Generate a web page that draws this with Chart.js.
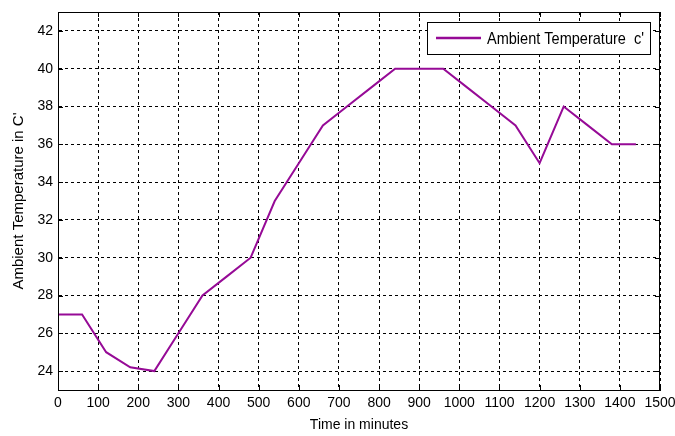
<!DOCTYPE html>
<html>
<head>
<meta charset="utf-8">
<script src="https://cdn.jsdelivr.net/npm/chart.js@4.4.1/dist/chart.umd.min.js"></script>
<style>
  html, body { margin: 0; padding: 0; background: #fff; }
  #wrap { width: 675px; height: 436px; }
</style>
</head>
<body>
<div id="wrap"><canvas id="chart" width="675" height="436"></canvas></div>
<script>
// time in minutes / ambient temperature
const minutes = [0, 60, 120, 180, 240, 300, 360, 420, 480, 540, 600, 660, 720,
  780, 840, 900, 960, 1020, 1080, 1140, 1200, 1260, 1320, 1380, 1440];
const tempC = [27, 27, 25, 24.2, 24, 26, 28, 29, 30, 33, 35, 37, 38,
  39, 40, 40, 40, 39, 38, 37, 35, 38, 37, 36, 36];
const xTicks = [0, 100, 200, 300, 400, 500, 600, 700, 800, 900, 1000, 1100, 1200, 1300, 1400, 1500];
const yTicks = [24, 26, 28, 30, 32, 34, 36, 38, 40, 42];
const seriesLabel = "Ambient Temperature  c'";
const xTitle = 'Time in minutes';
const yTitle = "Ambient Temperature in C'";

const FONT = "'Liberation Sans', Arial, sans-serif";
const lineColor = '#960a96';

// box around plot area, inner tick marks, legend box (matlab style)
const boxPlugin = {
  id: 'box',
  afterDatasetsDraw(chart) {
    const { ctx, chartArea: a, scales } = chart;
    ctx.save();
    ctx.strokeStyle = '#000';
    ctx.lineWidth = 1;
    ctx.strokeRect(a.left + 0.5, a.top + 0.5, a.right - a.left - 1, a.bottom - a.top);

    // small solid ticks pointing inward
    const tl = 5;
    ctx.beginPath();
    xTicks.forEach(v => {
      const px = Math.round(scales.x.getPixelForValue(v)) + 0.5;
      ctx.moveTo(px, a.bottom); ctx.lineTo(px, a.bottom - tl);
      ctx.moveTo(px, a.top); ctx.lineTo(px, a.top + tl);
    });
    yTicks.forEach(v => {
      const py = Math.round(scales.y.getPixelForValue(v)) + 0.5;
      ctx.moveTo(a.left, py); ctx.lineTo(a.left + tl, py);
      ctx.moveTo(a.right, py); ctx.lineTo(a.right - tl, py);
    });
    ctx.stroke();

    // legend
    const w = 223, h = 32;
    const x = a.right - w - 10, y = a.top + 10;
    ctx.fillStyle = '#fff';
    ctx.fillRect(x, y, w, h);
    ctx.strokeRect(x + 0.5, y + 0.5, w, h);
    ctx.strokeStyle = lineColor;
    ctx.lineWidth = 2.5;
    ctx.beginPath();
    ctx.moveTo(x + 9, y + h / 2);
    ctx.lineTo(x + 54, y + h / 2);
    ctx.stroke();
    ctx.fillStyle = '#000';
    ctx.font = '17px ' + FONT;
    ctx.textBaseline = 'middle';
    const label = chart.data.datasets[0].label;
    const tw = ctx.measureText(label).width;
    const target = 157;
    ctx.translate(x + 60, y + h / 2 + 1);
    ctx.scale(target / tw, 1);
    ctx.fillText(label, 0, 0);
    ctx.restore();
  }
};

new Chart(document.getElementById('chart'), {
  type: 'line',
  data: {
    datasets: [{
      label: seriesLabel,
      data: minutes.map((m, i) => ({ x: m, y: tempC[i] })),
      borderColor: lineColor,
      borderWidth: 2,
      pointRadius: 0,
      tension: 0,
      fill: false
    }]
  },
  options: {
    responsive: false,
    animation: false,
    layout: { padding: { top: 12, right: 15, left: 10, bottom: 0 } },
    plugins: {
      legend: { display: false },
      tooltip: { enabled: false }
    },
    scales: {
      x: {
        type: 'linear',
        min: 0,
        max: 1500,
        afterBuildTicks(s) { s.ticks = xTicks.map(v => ({ value: v })); },
        ticks: {
          autoSkip: false,
          color: '#000',
          padding: 5,
          maxRotation: 0,
          font: { family: FONT, size: 14 },
          callback: v => String(v)
        },
        grid: {
          color: '#000',
          lineWidth: 1,
          drawTicks: false
        },
        border: { display: true, color: '#000', dash: [3, 3] },
        title: {
          display: true,
          text: xTitle,
          color: '#000',
          padding: { top: 2, bottom: 2 },
          font: { family: FONT, size: 14 }
        },
        afterFit(s) { s.height = 46; s.paddingRight = 0; s.paddingLeft = 0; }
      },
      y: {
        min: 23,
        max: 43,
        afterBuildTicks(s) { s.ticks = yTicks.map(v => ({ value: v })); },
        ticks: {
          autoSkip: false,
          color: '#000',
          padding: 5,
          font: { family: FONT, size: 14 },
          callback: v => String(v)
        },
        grid: {
          color: '#000',
          lineWidth: 1,
          drawTicks: false
        },
        border: { display: true, color: '#000', dash: [3, 3] },
        title: {
          display: true,
          text: yTitle,
          color: '#000',
          padding: { top: 0, bottom: 4 },
          font: { family: FONT, size: 15 }
        },
        afterFit(s) { s.width = 48; s.paddingTop = 0; s.paddingBottom = 0; }
      }
    }
  },
  plugins: [boxPlugin]
});
</script>
</body>
</html>
